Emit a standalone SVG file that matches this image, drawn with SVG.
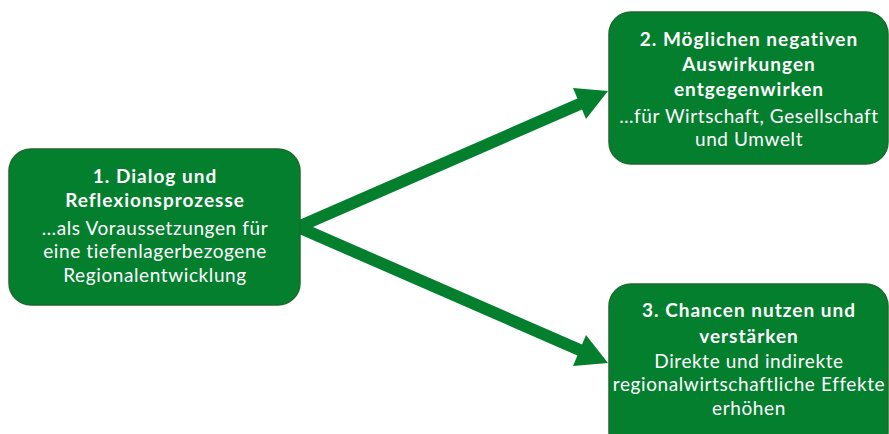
<svg xmlns="http://www.w3.org/2000/svg" width="889" height="434" viewBox="0 0 889 434">
  <style>
    .box { fill: #037f2e; stroke: #1c6a2c; stroke-width: 1.5; }
    .t { font-family: Lato, "Open Sans", sans-serif; font-size: 19px; letter-spacing: 0.6px; fill: #ffffff; text-anchor: middle; dominant-baseline: central; }
    .b { font-weight: bold; letter-spacing: 1px; }
    .conn { stroke: #037f2e; stroke-width: 12; fill: none; }
    .head { fill: #037f2e; }
  </style>
  <rect width="889" height="434" fill="#ffffff"/>

  <g id="connectors">
    <path class="conn" d="M298,227 L582,103"/>
    <polygon class="head" points="608,91 573,88 586,119"/>
    <path class="conn" d="M298,227 L582,351"/>
    <polygon class="head" points="608,363 586,335 573,366"/>
  </g>

  <g id="node1">
    <rect class="box" x="9" y="149" width="291" height="156" rx="22"/>
    <text class="t b" x="155" y="175">1. Dialog und</text>
    <text class="t b" x="155" y="199">Reflexionsprozesse</text>
    <text class="t" x="155" y="227">…als Voraussetzungen für</text>
    <text class="t" x="155" y="250">eine tiefenlagerbezogene</text>
    <text class="t" x="155" y="274">Regionalentwicklung</text>
  </g>

  <g id="node2">
    <rect class="box" x="609" y="12" width="279" height="152" rx="22"/>
    <text class="t b" x="749" y="38">2. Möglichen negativen</text>
    <text class="t b" x="749" y="63">Auswirkungen</text>
    <text class="t b" x="749" y="88">entgegenwirken</text>
    <text class="t" x="749" y="115">…für Wirtschaft, Gesellschaft</text>
    <text class="t" x="749" y="138">und Umwelt</text>
  </g>

  <g id="node3">
    <rect class="box" x="609" y="284" width="279" height="170" rx="22"/>
    <text class="t b" x="749" y="309">3. Chancen nutzen und</text>
    <text class="t b" x="749" y="335">verstärken</text>
    <text class="t" x="749" y="360">Direkte und indirekte</text>
    <text class="t" x="749" y="383">regionalwirtschaftliche Effekte</text>
    <text class="t" x="749" y="407">erhöhen</text>
  </g>
</svg>
